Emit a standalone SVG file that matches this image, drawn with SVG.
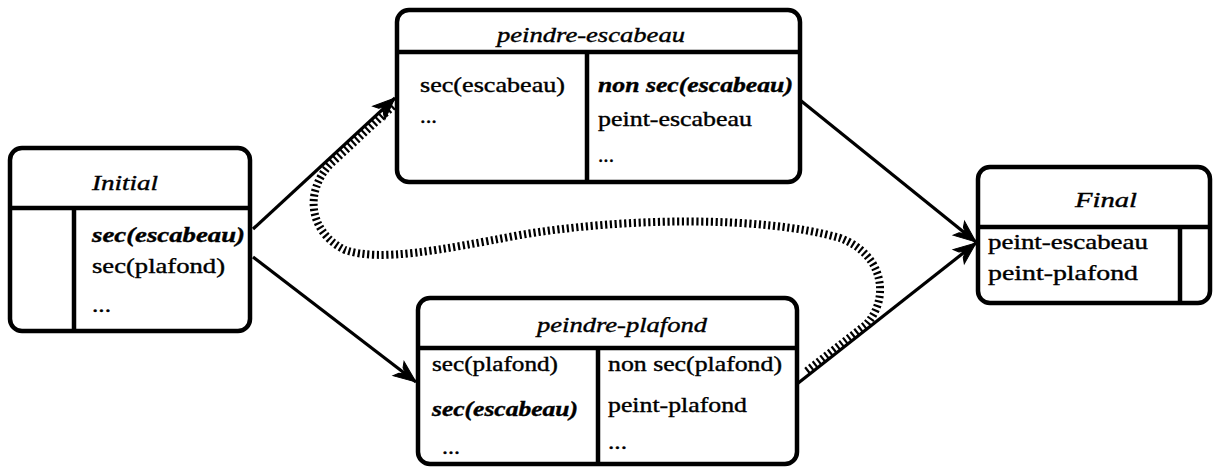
<svg xmlns="http://www.w3.org/2000/svg" width="1218" height="468" viewBox="0 0 1218 468">
  <style>
    .box { fill: #fff; stroke: #000; stroke-width: 4.5; }
    .div { stroke: #000; stroke-width: 4.5; fill: none; }
    .t { font-family: "Liberation Serif", "Times New Roman", serif; font-size: 22px; fill: #000; stroke: #000; stroke-width: 0.4; }
    .title { font-style: italic; text-anchor: middle; }
    .bi { font-style: italic; font-weight: bold; }
    .edge { stroke: #000; stroke-width: 3.2; fill: none; }
    .hatch { stroke: #000; stroke-width: 8; fill: none; stroke-dasharray: 2.2 2.6; }
  </style>
  <defs>
    <marker id="arrow" markerUnits="userSpaceOnUse" markerWidth="30" markerHeight="24" refX="0" refY="0" viewBox="-26 -12 30 24" orient="auto">
      <path d="M0,0 L-22,-9 L-19,-3.5 L-13,0 L-19,3.5 L-22,9 Z" fill="#000" stroke="#000" stroke-width="1"/>
    </marker>
  </defs>

  <!-- connectors -->
  <g id="connectors">
    <path class="hatch" d="M 393,106 L 335,160 C 305,185 305,230 345,250 C 380,262 440,250 520,235 C 620,218 760,215 840,238 C 885,255 890,300 865.5,325 L 805.5,372"/>
    <line class="edge" x1="253" y1="229" x2="395" y2="98" marker-end="url(#arrow)"/>
    <line class="edge" x1="253" y1="257" x2="416" y2="382" marker-end="url(#arrow)"/>
    <line class="edge" x1="800" y1="100" x2="976" y2="242" marker-end="url(#arrow)"/>
    <line class="edge" x1="797" y1="384" x2="976" y2="243" marker-end="url(#arrow)"/>
  </g>

  <!-- Initial state -->
  <g id="initial">
    <rect class="box" x="10" y="148" width="240" height="183" rx="12"/>
    <line class="div" x1="10" y1="208" x2="250" y2="208"/>
    <line class="div" x1="74" y1="208" x2="74" y2="331"/>
    <text class="t title" x="125" y="190" textLength="66" lengthAdjust="spacingAndGlyphs">Initial</text>
    <text class="t bi" x="92" y="242" textLength="153" lengthAdjust="spacingAndGlyphs">sec(escabeau)</text>
    <text class="t" x="92" y="273" textLength="133" lengthAdjust="spacingAndGlyphs">sec(plafond)</text>
    <text class="t" x="92" y="312" textLength="19" lengthAdjust="spacingAndGlyphs">...</text>
  </g>

  <!-- peindre-escabeau -->
  <g id="peindre-escabeau">
    <rect class="box" x="397" y="10" width="403" height="172" rx="12"/>
    <line class="div" x1="397" y1="52" x2="800" y2="52"/>
    <line class="div" x1="587" y1="52" x2="587" y2="182"/>
    <text class="t title" x="591" y="42" textLength="188" lengthAdjust="spacingAndGlyphs">peindre-escabeau</text>
    <text class="t" x="420" y="92" textLength="145" lengthAdjust="spacingAndGlyphs">sec(escabeau)</text>
    <text class="t" x="420" y="123" textLength="17" lengthAdjust="spacingAndGlyphs">...</text>
    <text class="t bi" x="598" y="92" textLength="195" lengthAdjust="spacingAndGlyphs">non sec(escabeau)</text>
    <text class="t" x="598" y="126" textLength="154" lengthAdjust="spacingAndGlyphs">peint-escabeau</text>
    <text class="t" x="598" y="162" textLength="16" lengthAdjust="spacingAndGlyphs">...</text>
  </g>

  <!-- peindre-plafond -->
  <g id="peindre-plafond">
    <rect class="box" x="418" y="298" width="379" height="166" rx="12"/>
    <line class="div" x1="418" y1="348" x2="797" y2="348"/>
    <line class="div" x1="598" y1="348" x2="598" y2="464"/>
    <text class="t title" x="622" y="332" textLength="170" lengthAdjust="spacingAndGlyphs">peindre-plafond</text>
    <text class="t" x="432" y="371" textLength="126" lengthAdjust="spacingAndGlyphs">sec(plafond)</text>
    <text class="t bi" x="432" y="416" textLength="146" lengthAdjust="spacingAndGlyphs">sec(escabeau)</text>
    <text class="t" x="442" y="454" textLength="18" lengthAdjust="spacingAndGlyphs">...</text>
    <text class="t" x="608" y="371" textLength="174" lengthAdjust="spacingAndGlyphs">non sec(plafond)</text>
    <text class="t" x="608" y="412" textLength="139" lengthAdjust="spacingAndGlyphs">peint-plafond</text>
    <text class="t" x="608" y="449" textLength="19" lengthAdjust="spacingAndGlyphs">...</text>
  </g>

  <!-- Final state -->
  <g id="final">
    <rect class="box" x="978" y="167" width="232" height="136" rx="12"/>
    <line class="div" x1="978" y1="227" x2="1210" y2="227"/>
    <line class="div" x1="1180" y1="227" x2="1180" y2="303"/>
    <text class="t title" x="1106" y="207" textLength="62" lengthAdjust="spacingAndGlyphs">Final</text>
    <text class="t" x="988" y="249" textLength="160" lengthAdjust="spacingAndGlyphs">peint-escabeau</text>
    <text class="t" x="988" y="280" textLength="150" lengthAdjust="spacingAndGlyphs">peint-plafond</text>
  </g>
</svg>
